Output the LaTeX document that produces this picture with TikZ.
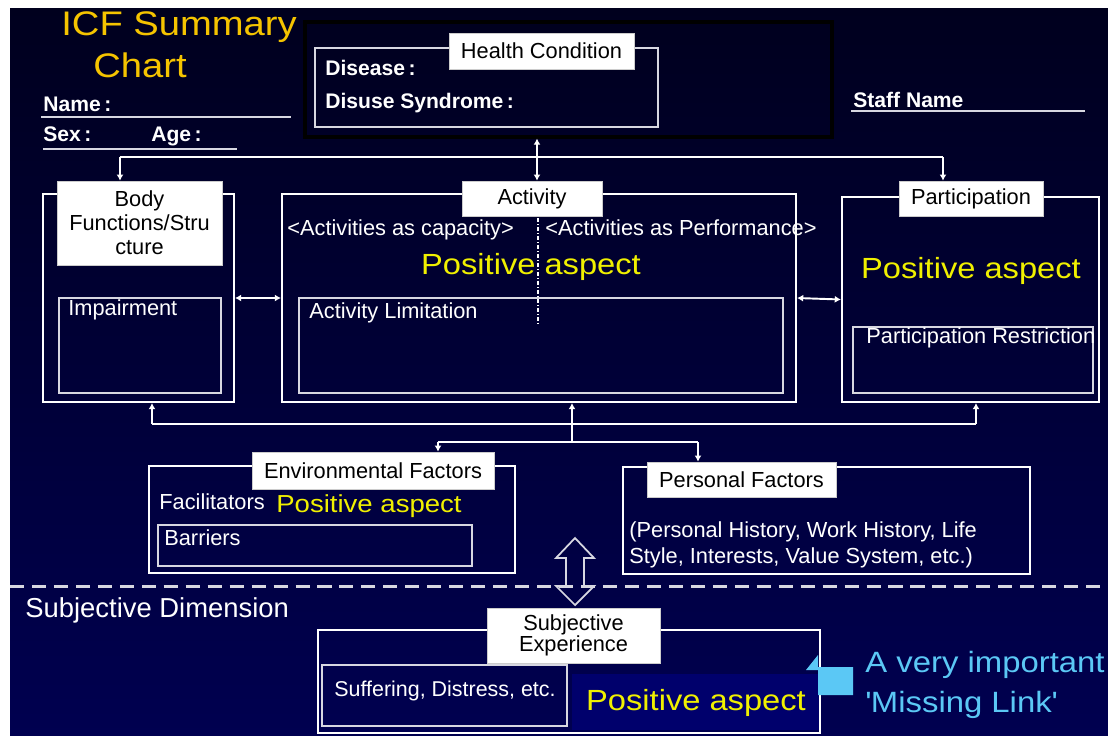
\documentclass[tikz,border=0pt]{standalone}
\usepackage{fontspec}
\setmainfont{Liberation Sans}
\newfontfamily\widesans[FakeStretch=1.12]{Liberation Sans}
\usetikzlibrary{positioning,arrows.meta,fit}
\definecolor{icfgold}{RGB}{245,196,0}
\definecolor{posyellow}{RGB}{240,240,0}
\definecolor{linkblue}{RGB}{91,200,245}
\definecolor{navytop}{RGB}{0,0,30}
\definecolor{navybot}{RGB}{0,0,80}
\definecolor{navyfill}{RGB}{0,0,108}
\definecolor{rulegray}{RGB}{215,215,225}
\tikzset{
  outerbox/.style={rectangle,draw=white,line width=1.2pt,inner sep=0pt},
  innerbox/.style={rectangle,draw=rulegray,line width=0.8pt,inner sep=0pt},
  hcbox/.style={rectangle,draw=black,line width=1.8pt,inner sep=0pt},
  tagbox/.style={rectangle,fill=white,draw=black!20,line width=0.4pt,inner sep=0pt},
  tagtxt/.style={text=black,align=center,inner sep=0pt,font=\fontsize{12.4}{13.6}\selectfont},
  wtxt/.style={text=white,inner sep=0pt,anchor=base west,font=\fontsize{12.4}{14.8}\selectfont},
  fieldtxt/.style={wtxt,font=\fontsize{12}{14}\selectfont\bfseries},
  titletxt/.style={text=icfgold,inner sep=0pt,anchor=base west,font=\widesans\fontsize{19.4}{22}\selectfont},
  posasp/.style={text=posyellow,inner sep=0pt,anchor=base,font=\widesans\fontsize{16.6}{18}\selectfont},
  linktxt/.style={text=linkblue,inner sep=0pt,anchor=base west,font=\widesans\fontsize{16.7}{19}\selectfont},
  busline/.style={white,line width=1.1pt},
  ptr/.style={busline,-{Latex[length=3.5pt,width=4pt]}},
  dptr/.style={busline,{Latex[length=3.5pt,width=4pt]}-{Latex[length=3.5pt,width=4pt]}},
  uline/.style={rulegray,line width=0.9pt},
  divider/.style={white,line width=0.6pt,dash pattern=on 2.5pt off 1pt on 0.6pt off 1pt},
  dashline/.style={rulegray,line width=1.7pt,dash pattern=on 8pt off 4.5pt},
  blockarrow/.style={draw=rulegray,line width=1pt,line join=miter},
}

\begin{document}
\begin{tikzpicture}[x={(0.02cm,0)},y={(0,-0.02cm)}]
  \useasboundingbox (0,0) rectangle (1108,735);
  \fill[white] (0,0) rectangle (1108,735);
  \shade[top color=navytop,bottom color=navybot] (10,8) rectangle (1108,735);

  % title and header fields
  \node[titletxt] (title1) at (61,35) {ICF Summary};
  \node[titletxt] (title2) at (93,77) {Chart};
  \node[fieldtxt] (name) at (43,111) {Name\,:};
  \node[fieldtxt] (sex) at (43,141) {Sex\,:};
  \node[fieldtxt] (age) at (151,141) {Age\,:};
  \node[fieldtxt] (staff) at (853,107) {Staff Name};
  \draw[uline] (41,117) -- (291,117);
  \draw[uline] (43,149) -- (237,149);
  \draw[uline] (851,111) -- (1085,111);

  % health condition
  \node[hcbox,fit={(305,22) (832,137)}] (hcout) {};
  \node[innerbox,fit={(315,48) (658,127)}] (hcin) {};
  \node[tagbox,fit={(449,33) (634,69)}] (hctag) {};
  \node[tagtxt] at (hctag) {Health Condition};
  \node[fieldtxt] (disease) at (325,75) {Disease\,:};
  \node[fieldtxt] (disuse) at (325,108) {Disuse Syndrome\,:};

  % body functions / structure
  \node[outerbox,fit={(43,194) (234,402)}] (body) {};
  \node[tagbox,fit={(57,181) (222,265)}] (bodytag) {};
  \node[tagtxt] at (bodytag) {Body\\Functions/Stru\\cture};
  \node[innerbox,fit={(59,298) (221,393)}] (impair) {};
  \node[wtxt] (impairtxt) at (68,315) {Impairment};

  % activity
  \node[outerbox,fit={(282,194) (796,402)}] (act) {};
  \node[tagbox,fit={(462,181) (602,216)}] (acttag) {};
  \node[tagtxt] at (acttag) {Activity};
  \node[innerbox,fit={(299,298) (783,393)}] (actlim) {};
  \node[wtxt] (cap) at (287,235) {<Activities as capacity>};
  \node[wtxt] (perf) at (545,235) {<Activities as Performance>};
  \draw[divider] (538,218) -- (538,325);
  \node[posasp] (actpos) at (531,274) {Positive aspect};
  \node[wtxt] (actlimtxt) at (309,318) {Activity Limitation};

  % participation
  \node[outerbox,fit={(842,197) (1099,402)}] (part) {};
  \node[tagbox,fit={(899,181) (1043,216)}] (parttag) {};
  \node[tagtxt] at (parttag) {Participation};
  \node[posasp] (partpos) at (971,278) {Positive aspect};
  \node[innerbox,fit={(853,327) (1093,393)}] (partres) {};
  \node[wtxt] (partrestxt) at (866,343) {Participation Restriction};

  % links to health condition
  \coordinate (busL) at (120,157);
  \coordinate (busM) at (537,157);
  \coordinate (busR) at (943,157);
  \draw[busline] (busL) -- (busR);
  \draw[ptr] (busL) -- (busL |- bodytag.north);
  \draw[ptr] (busR) -- (busR |- parttag.north);
  \draw[dptr] (busM |- hcout.south) -- (busM |- acttag.north);
  \draw[dptr] (body.east) -- (act.west);
  \draw[dptr] (act.east) -- (part.west);

  % contextual factors
  \node[outerbox,fit={(149,466) (515,573)}] (env) {};
  \node[tagbox,fit={(252,452) (494,489)}] (envtag) {};
  \node[tagtxt] at (envtag) {Environmental Factors};
  \node[wtxt] (facil) at (159,509) {Facilitators};
  \node[posasp,anchor=base west,font=\widesans\fontsize{14}{16}\selectfont] (envpos) at (276,512) {Positive aspect};
  \node[innerbox,fit={(158,525) (472,566)}] (barr) {};
  \node[wtxt] (barrtxt) at (164,545) {Barriers};

  \node[outerbox,fit={(623,467) (1030,574)}] (pers) {};
  \node[tagbox,fit={(647,462) (836,497)}] (perstag) {};
  \node[tagtxt] at (perstag) {Personal Factors};
  \node[wtxt,anchor=north west,align=left] (perstxt) at (629,521)
    {(Personal History, Work History, Life\\Style, Interests, Value System, etc.)};

  \coordinate (lowL) at (152,424);
  \coordinate (lowR) at (976,424);
  \coordinate (fork) at (572,442);
  \coordinate (forkL) at (438,442);
  \coordinate (forkR) at (698,442);
  \draw[busline] (lowL) -- (lowR);
  \draw[ptr] (lowL) -- (lowL |- body.south);
  \draw[ptr] (lowR) -- (lowR |- part.south);
  \draw[ptr] (fork) -- (fork |- act.south);
  \draw[busline] (forkL) -- (forkR);
  \draw[ptr] (forkL) -- (forkL |- envtag.north);
  \draw[ptr] (forkR) -- (forkR |- perstag.north);

  % subjective dimension
  \draw[dashline] (10,586) -- (1108,586);
  \draw[blockarrow] (575,538) -- (594,558) -- (584,558) -- (584,586) -- (594,586)
    -- (575,605) -- (556,586) -- (566,586) -- (566,558) -- (556,558) -- cycle;
  \node[wtxt,font=\fontsize{15.6}{17}\selectfont] (subjdim) at (25,617) {Subjective Dimension};
  \node[outerbox,fit={(318,630) (820,733)}] (subj) {};
  \node[tagbox,fit={(487,608) (660,663)}] (subjtag) {};
  \node[tagtxt,font=\fontsize{12.4}{12}\selectfont] at (subjtag) {Subjective\\Experience};
  \node[innerbox,fit={(322,665) (567,726)}] (suffer) {};
  \node[text=white,inner sep=0pt,font=\fontsize{12.2}{14}\selectfont] (suffertxt) at (445,691) {Suffering, Distress, etc.};
  \node[rectangle,fill=navyfill,inner sep=0pt,fit={(572,674) (819,730)}] (subjpos) {};
  \node[posasp] (subjpostxt) at (696,710) {Positive aspect};

  % missing link callout
  \fill[linkblue] (806,670) -- (818,655) -- (818,667) -- (853,667) -- (853,695)
    -- (818,695) -- (818,670) -- cycle;
  \node[linktxt] (linkA) at (865,672) {A very important};
  \node[linktxt] (linkB) at (865,712) {\textquotesingle Missing Link\textquotesingle};
\end{tikzpicture}
\end{document}
